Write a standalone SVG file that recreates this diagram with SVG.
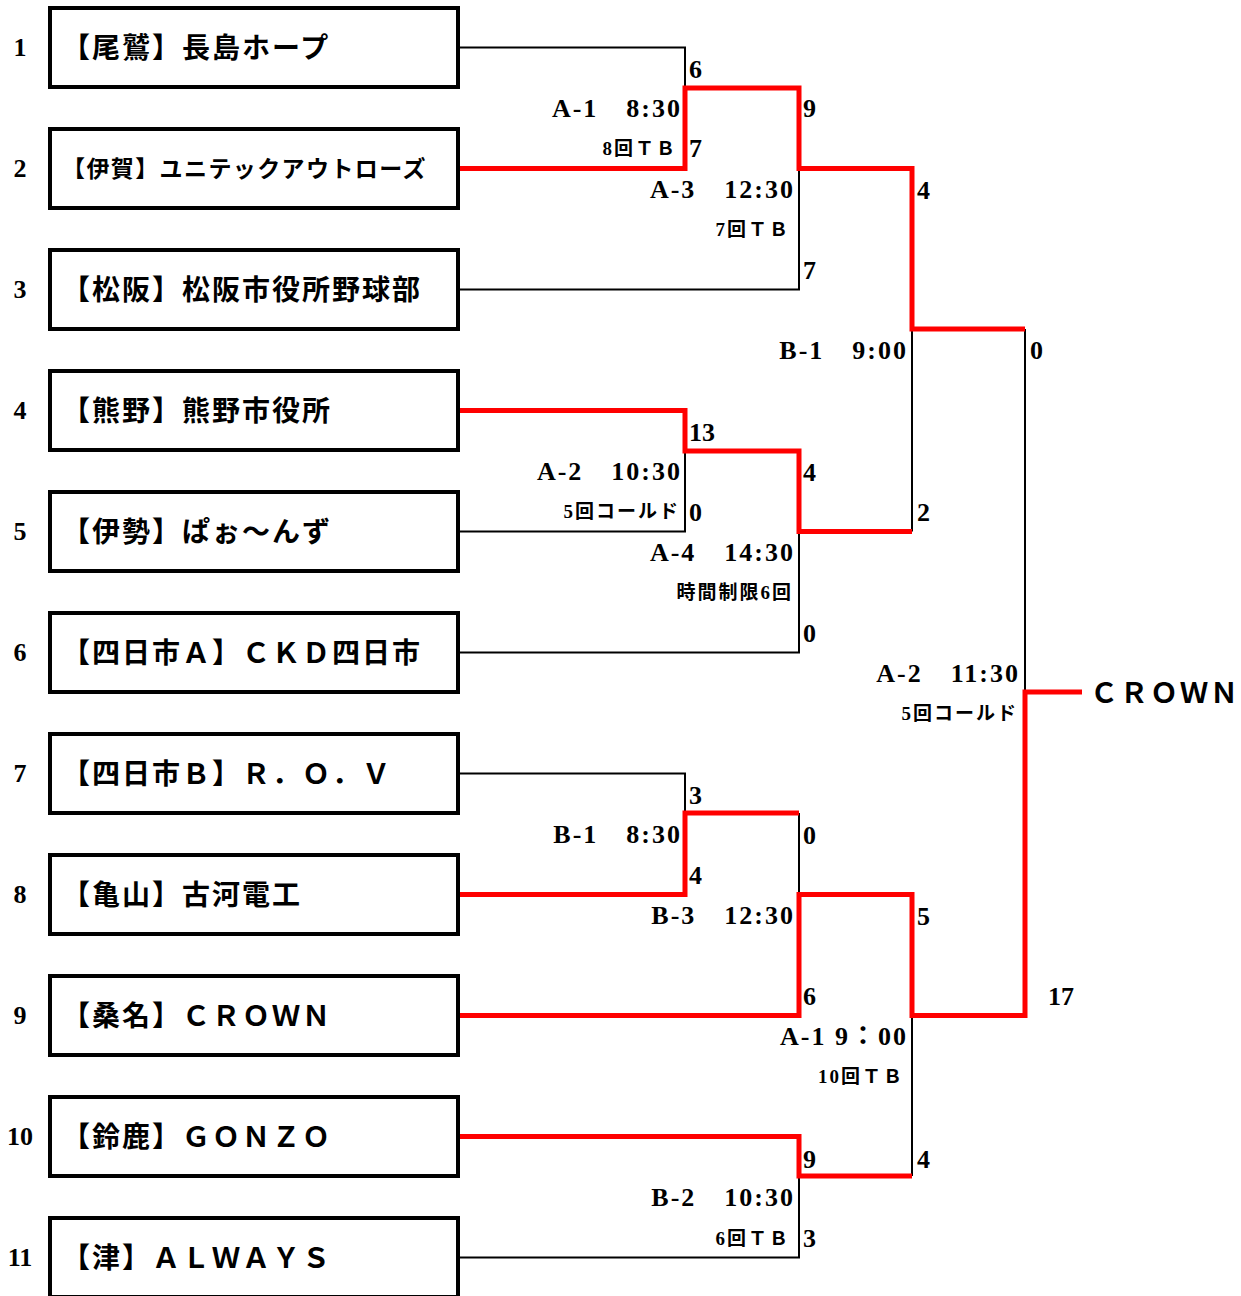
<svg xmlns="http://www.w3.org/2000/svg" width="1241" height="1296" viewBox="0 0 1241 1296">
<style>
.box{fill:#fff;stroke:#000;stroke-width:4}
.team{font-family:"Liberation Serif","Noto Sans CJK JP",serif;font-weight:700;font-size:28px;letter-spacing:2px;fill:#000}
.team2{font-size:23px;letter-spacing:1.4px}
.num{font-family:"Liberation Serif","Noto Sans CJK JP",serif;font-weight:700;font-size:26px;fill:#000;text-anchor:middle}
.sc{font-family:"Liberation Serif","Noto Sans CJK JP",serif;font-weight:700;font-size:26px;fill:#000}
.lb{font-family:"Liberation Serif","Noto Sans CJK JP",serif;font-weight:700;font-size:26px;fill:#000;text-anchor:end;letter-spacing:2px}
.sm{font-family:"Liberation Serif","Noto Sans CJK JP",serif;font-weight:700;font-size:19px;fill:#000;text-anchor:end;letter-spacing:2px}
.blk{fill:none;stroke:#000;stroke-width:2}
.red{fill:none;stroke:#ff0000;stroke-width:5}
.win{font-family:"Liberation Serif","Noto Sans CJK JP",serif;font-weight:700;font-size:28px;letter-spacing:2px;fill:#000}
</style>
<rect width="1241" height="1296" fill="#fff"/>
<g id="connectors">
<path class="blk" d="M458,47.5H685V88M458,289.5H799V168.5M458,531.5H685V451M458,652.5H799V531.5M912,329V531.5M1025,329V692M458,773.5H685V813M799,813V894.5M912,1015.5V1176M458,1257.5H799V1176"/>
<path class="red" d="M458,168.5H685V88H799V168.5H912V329H1025"/>
<path class="red" d="M458,410.5H685V451H799V531.5H912"/>
<path class="red" d="M458,894.5H685V813H799"/>
<path class="red" d="M458,1015.5H799V894.5H912V1015.5H1025V692H1082"/>
<path class="red" d="M458,1136.5H799V1176H912"/>
</g>
<g id="team1"><text class="num" x="20" y="56">1</text><rect class="box" x="50" y="8" width="408" height="79"/><text class="team" x="62" y="58">【尾鷲】長島ホープ</text></g>
<g id="team2"><text class="num" x="20" y="177">2</text><rect class="box" x="50" y="129" width="408" height="79"/><text class="team team2" x="62" y="177">【伊賀】ユニテックアウトローズ</text></g>
<g id="team3"><text class="num" x="20" y="298">3</text><rect class="box" x="50" y="250" width="408" height="79"/><text class="team" x="62" y="300">【松阪】松阪市役所野球部</text></g>
<g id="team4"><text class="num" x="20" y="419">4</text><rect class="box" x="50" y="371" width="408" height="79"/><text class="team" x="62" y="421">【熊野】熊野市役所</text></g>
<g id="team5"><text class="num" x="20" y="540">5</text><rect class="box" x="50" y="492" width="408" height="79"/><text class="team" x="62" y="542">【伊勢】ぱぉ～んず</text></g>
<g id="team6"><text class="num" x="20" y="661">6</text><rect class="box" x="50" y="613" width="408" height="79"/><text class="team" x="62" y="663">【四日市Ａ】ＣＫＤ四日市</text></g>
<g id="team7"><text class="num" x="20" y="782">7</text><rect class="box" x="50" y="734" width="408" height="79"/><text class="team" x="62" y="784">【四日市Ｂ】Ｒ．Ｏ．Ｖ</text></g>
<g id="team8"><text class="num" x="20" y="903">8</text><rect class="box" x="50" y="855" width="408" height="79"/><text class="team" x="62" y="905">【亀山】古河電工</text></g>
<g id="team9"><text class="num" x="20" y="1024">9</text><rect class="box" x="50" y="976" width="408" height="79"/><text class="team" x="62" y="1026">【桑名】ＣＲＯＷＮ</text></g>
<g id="team10"><text class="num" x="20" y="1145">10</text><rect class="box" x="50" y="1097" width="408" height="79"/><text class="team" x="62" y="1147">【鈴鹿】ＧＯＮＺＯ</text></g>
<g id="team11"><text class="num" x="20" y="1266">11</text><rect class="box" x="50" y="1218" width="408" height="79"/><text class="team" x="62" y="1268">【津】ＡＬＷＡＹＳ</text></g>
<g id="labels">
<text class="sc" x="689" y="78">6</text><text class="sc" x="689" y="157">7</text>
<text class="lb" x="682" y="117" xml:space="preserve">A-1　8:30</text>
<text class="sm" x="677" y="155">8回ＴＢ</text>
<text class="sc" x="803" y="117">9</text><text class="sc" x="803" y="279">7</text>
<text class="lb" x="795" y="198" xml:space="preserve">A-3　12:30</text>
<text class="sm" x="790" y="236">7回ＴＢ</text>
<text class="sc" x="917" y="199">4</text><text class="sc" x="917" y="521">2</text>
<text class="lb" x="908" y="359" xml:space="preserve">B-1　9:00</text>
<text class="sc" x="689" y="441">13</text><text class="sc" x="689" y="521">0</text>
<text class="lb" x="682" y="480" xml:space="preserve">A-2　10:30</text>
<text class="sm" x="680" y="518">5回コールド</text>
<text class="sc" x="803" y="481">4</text><text class="sc" x="803" y="642">0</text>
<text class="lb" x="795" y="561" xml:space="preserve">A-4　14:30</text>
<text class="sm" x="793" y="599">時間制限6回</text>
<text class="sc" x="1030" y="359">0</text><text class="sc" x="1048" y="1005">17</text>
<text class="lb" x="1020" y="682" xml:space="preserve">A-2　11:30</text>
<text class="sm" x="1018" y="720">5回コールド</text>
<text class="win" id="champion" x="1090" y="703">ＣＲＯＷＮ</text>
<text class="sc" x="689" y="804">3</text><text class="sc" x="689" y="884">4</text>
<text class="lb" x="682" y="843" xml:space="preserve">B-1　8:30</text>
<text class="sc" x="803" y="844">0</text><text class="sc" x="803" y="1005">6</text>
<text class="lb" x="795" y="924" xml:space="preserve">B-3　12:30</text>
<text class="sc" x="917" y="925">5</text><text class="sc" x="917" y="1168">4</text>
<text class="lb" x="908" y="1045" xml:space="preserve">A-1 9：00</text>
<text class="sm" x="904" y="1083">10回ＴＢ</text>
<text class="sc" x="803" y="1168">9</text><text class="sc" x="803" y="1247">3</text>
<text class="lb" x="795" y="1206" xml:space="preserve">B-2　10:30</text>
<text class="sm" x="790" y="1245">6回ＴＢ</text>
</g>
</svg>
